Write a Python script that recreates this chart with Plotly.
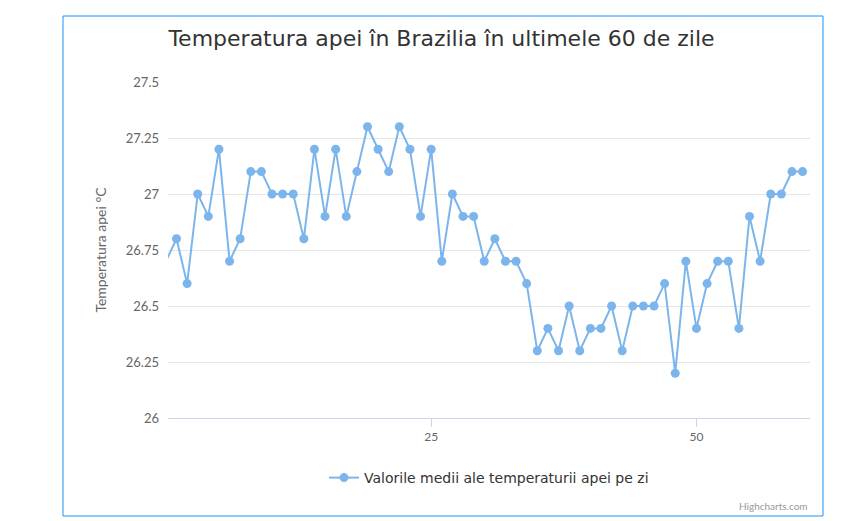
import plotly.graph_objects as go

days = list(range(0, 61))
temps = [26.7, 26.8, 26.6, 27.0, 26.9, 27.2, 26.7, 26.8, 27.1, 27.1, 27.0,
         27.0, 27.0, 26.8, 27.2, 26.9, 27.2, 26.9, 27.1, 27.3, 27.2,
         27.1, 27.3, 27.2, 26.9, 27.2, 26.7, 27.0, 26.9, 26.9, 26.7,
         26.8, 26.7, 26.7, 26.6, 26.3, 26.4, 26.3, 26.5, 26.3, 26.4,
         26.4, 26.5, 26.3, 26.5, 26.5, 26.5, 26.6, 26.2, 26.7, 26.4,
         26.6, 26.7, 26.7, 26.4, 26.9, 26.7, 27.0, 27.0, 27.1, 27.1]
y_ticks = [26, 26.25, 26.5, 26.75, 27, 27.25, 27.5]
y_labels = ["26", "26.25", "26.5", "26.75", "27", "27.25", "27.5"]

W, H = 867, 521
L, R, T, B = 160, 65, 74, 111
pw, ph = W - L - R, H - T - B

def px(x):
    return (x - L) / pw
def py(y):
    return (H - B - y) / ph

fig = go.Figure(go.Scatter(
    x=days[1:], y=temps[1:], mode="lines+markers",
    line=dict(color="#7cb5ec", width=2),
    marker=dict(color="#7cb5ec", size=9),
    name="Valorile medii ale temperaturii apei pe zi", cliponaxis=False))
fig.add_trace(go.Scatter(x=days[:2], y=temps[:2], mode="lines",
                         line=dict(color="#7cb5ec", width=2), showlegend=False))

fig.update_layout(
    width=W, height=H, plot_bgcolor="white", paper_bgcolor="white",
    margin=dict(l=L, r=R, t=T, b=B),
    font=dict(family="Lato, DejaVu Sans", color="#666666"),
    title=dict(text="Temperatura apei în Brazilia în ultimele 60 de zile",
               x=0.5, xanchor="center", y=1 - 30 / H, yanchor="middle",
               font=dict(size=22, color="#333333", family="DejaVu Sans")),
    xaxis=dict(range=[0.2, 60.7], tickvals=[25, 50], showgrid=False,
               showline=True, linecolor="#ccd6eb", ticks="outside",
               tickcolor="#ccd6eb", ticklen=8, zeroline=False,
               tickfont=dict(size=12, color="#666666")),
    yaxis=dict(range=[26, 27.5], tickvals=y_ticks, ticktext=y_labels,
               gridcolor="#e6e6e6", zeroline=False, ticklabelstandoff=8,
               title=dict(text="Temperatura apei °C", font=dict(size=14, color="#666666")),
               tickfont=dict(size=13, color="#666666")),
    legend=dict(orientation="h", x=0.5, xanchor="center", y=py(470), yanchor="middle",
                font=dict(size=14, color="#333333", family="DejaVu Sans")),
    shapes=[dict(type="rect", xref="paper", yref="paper",
                 x0=px(55), x1=px(815), y0=py(508), y1=py(8),
                 line=dict(color="#1e90ff", width=1), layer="below")],
    annotations=[dict(text="Highcharts.com", xref="paper", yref="paper",
                      x=px(802), y=py(498), xanchor="right", yanchor="middle",
                      showarrow=False, font=dict(size=10, color="#999999"))],
)
fig.write_html("out.html")
